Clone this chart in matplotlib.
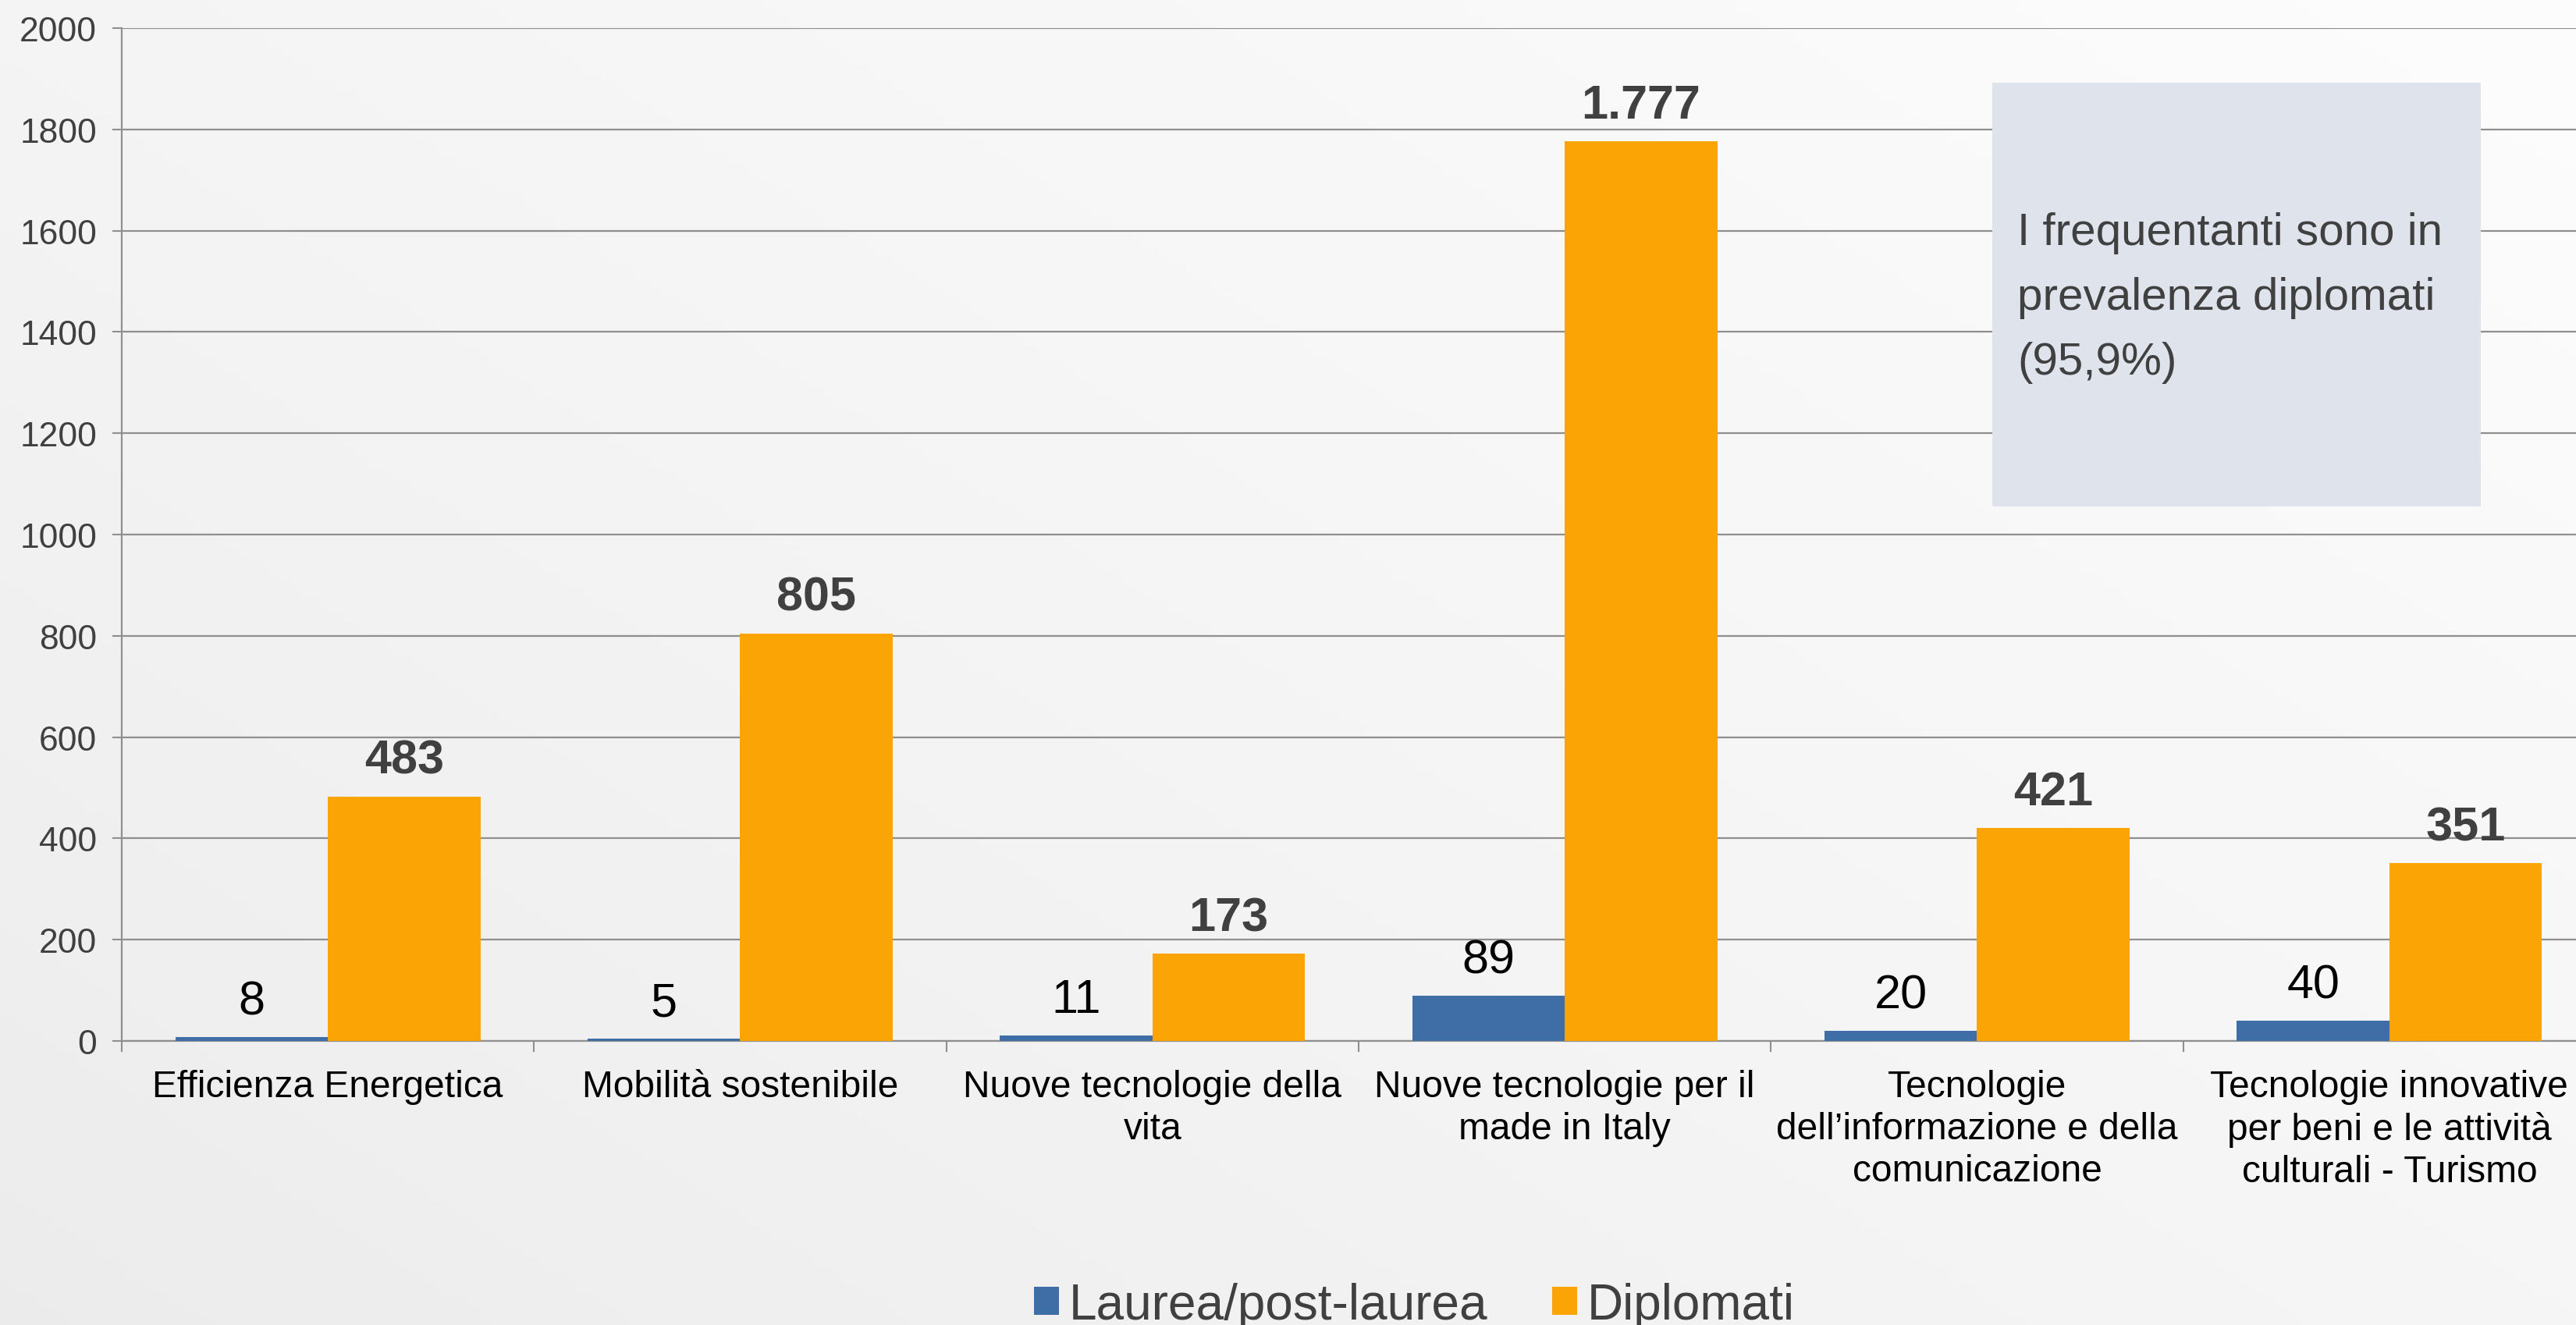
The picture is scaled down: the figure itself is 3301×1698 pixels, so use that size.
import matplotlib.pyplot as plt
import numpy as np
from matplotlib.patches import Rectangle

plt.rcParams['font.family'] = ['Liberation Sans', 'DejaVu Sans']

categories = ['Efficienza Energetica', 'Mobilità sostenibile',
              'Nuove tecnologie della\nvita', 'Nuove tecnologie per il\nmade in Italy',
              'Tecnologie\ndell\u2019informazione e della\ncomunicazione',
              'Tecnologie innovative\nper beni e le attività\nculturali - Turismo']
laurea = [8, 5, 11, 89, 20, 40]
diplomati = [483, 805, 173, 1777, 421, 351]
series_names = ['Laurea/post-laurea', 'Diplomati']
yticks = list(range(0, 2001, 200))
note = 'I frequentanti sono in\nprevalenza diplomati\n(95,9%)'

blue = '#3f6ea6'
orange = '#faa406'
grid_c = '#8f8f8f'

W, H = 3301, 1699
fig = plt.figure(figsize=(W / 100, H / 100), dpi=100)

# background gradient (light grey bottom-left -> near white top-right)
bg = fig.add_axes([0, 0, 1, 1], zorder=-10)
gx, gy = np.meshgrid(np.linspace(0, 1, 300), np.linspace(0, 1, 160))
g = (gx * 0.55 + gy * 0.45)
bg.imshow(g, cmap='Greys_r', vmin=-6.5, vmax=1.15, origin='lower', aspect='auto', extent=[0, 1, 0, 1])
bg.axis('off')

ax = fig.add_axes([156 / W, 1 - 1335 / H, (3326 - 156) / W, (1335 - 37) / H])
ax.set_facecolor('none')

x = np.arange(len(categories))
bw = 0.37
b1 = ax.bar(x - bw / 2, laurea, bw, color=blue, label=series_names[0], zorder=3)
b2 = ax.bar(x + bw / 2, diplomati, bw, color=orange, label=series_names[1], zorder=3)

for r, v in zip(b1, laurea):
    ax.annotate(str(v), (r.get_x() + r.get_width() / 2, v), xytext=(0, 12),
                textcoords='offset points', ha='center', va='bottom', fontsize=44, color='black')
for r, v in zip(b2, diplomati):
    ax.annotate(f'{v:,}'.replace(',', '.'), (r.get_x() + r.get_width() / 2, v), xytext=(0, 12),
                textcoords='offset points', ha='center', va='bottom', fontsize=44,
                fontweight='bold', color='#404040')

ax.set_xlim(-0.5, len(categories) - 0.5)
ax.set_ylim(0, 2000)
ax.set_yticks(yticks)
ax.yaxis.grid(True, color=grid_c, linewidth=1.6, zorder=0)
ax.set_axisbelow(True)
ax.tick_params(axis='y', labelsize=32, labelcolor='#404040', length=9, width=1.5,
               color=grid_c, pad=14)

ax.set_xticks(np.arange(-0.5, len(categories), 1.0))
ax.set_xticklabels([])
ax.set_xticks(x, minor=True)
ax.set_xticklabels(categories, minor=True, fontsize=34.5, color='black', linespacing=1.25)
ax.tick_params(axis='x', which='major', length=10, width=1.5, color=grid_c)
ax.tick_params(axis='x', which='minor', length=0, pad=26)

for s in ['top', 'right']:
    ax.spines[s].set_visible(False)
for s in ['left', 'bottom']:
    ax.spines[s].set_color(grid_c)
    ax.spines[s].set_linewidth(1.6)

# note box
box = Rectangle((2553 / W, 1 - 650 / H), (3179 - 2553) / W, (650 - 107) / H,
                transform=fig.transFigure, facecolor='#dfe3ec', edgecolor='none',
                zorder=5, clip_on=False)
ax.add_patch(box)
ax.text(2585 / W, 1 - 382 / H, note, transform=fig.transFigure, fontsize=42,
        color='#404040', ha='left', va='center', linespacing=1.68, zorder=6)

fig.legend(handles=[b1, b2], labels=series_names, loc='center',
           bbox_to_anchor=(0.549, 0.015), ncol=2, frameon=False, fontsize=46,
           handlelength=0.5, handleheight=0.5, handletextpad=0.2, columnspacing=1.3,
           labelcolor='#404040')

fig.savefig('out.png', dpi=100)
